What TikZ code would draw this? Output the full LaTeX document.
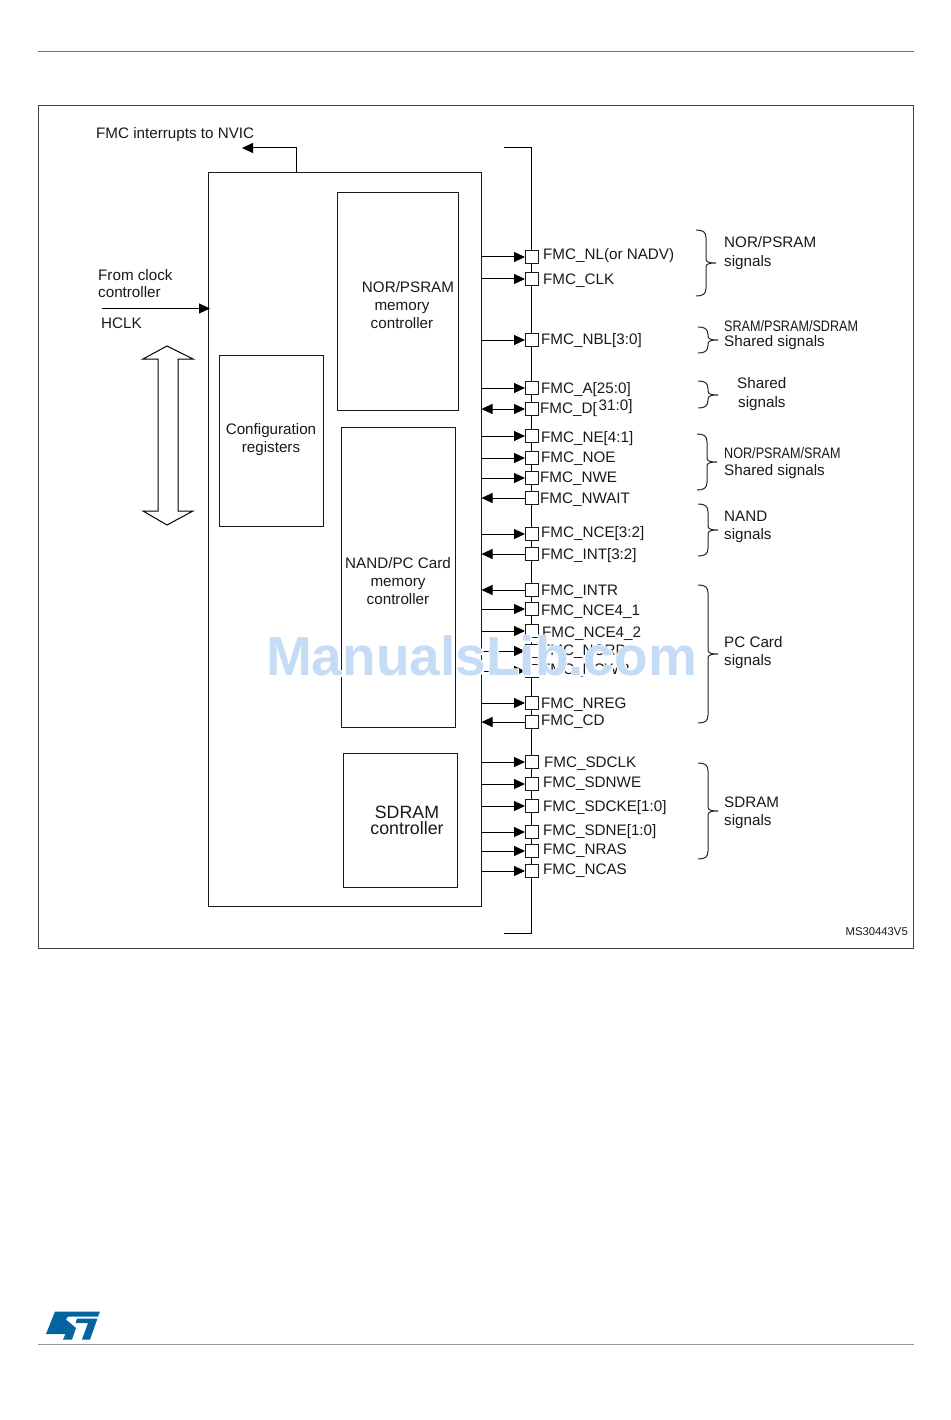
\documentclass[tikz,border=0pt]{standalone}
\usepackage{fontspec}
\setmainfont{Liberation Sans}
\newfontfamily\wmhalofont[FakeBold=4]{Liberation Sans Bold}
\usetikzlibrary{arrows.meta}
\definecolor{stblue}{HTML}{03649F}
\definecolor{wmblue}{HTML}{C4DCF5}
\tikzset{
    box/.style={draw=black!90, fill=white, line width=1pt, inner sep=0pt},
    pad/.style={draw=black!90, fill=white, line width=1pt, inner sep=0pt, minimum size=13pt},
    txt/.style={font=\fontsize{15.2}{18}\selectfont, text=black!90, inner sep=0pt, align=center},
    sig/.style={font=\fontsize{15.2}{18}\selectfont, text=black!90, inner sep=0pt, anchor=west, text height=11pt, text depth=0pt},
    group/.style={font=\fontsize{15.2}{18.5}\selectfont, text=black!90, inner sep=0pt, anchor=west, align=left},
    outsig/.style={line width=1pt, draw=black, -{Triangle[length=11pt,width=10pt]}},
    insig/.style={line width=1pt, draw=black, {Triangle[length=11pt,width=10pt]}-},
    sigbrace/.style={line width=1pt, draw=black!85},
}
% brace: left x, top y, tip y, bottom y
\newcommand{\sigbrace}[4]{
    \draw[sigbrace] (#1,#2) .. controls (#1+7,#2) and (#1+10,#2+2) .. (#1+10,#2+8) -- (#1+10,#3-4)
        .. controls (#1+10,#3-1) and (#1+13,#3) .. (#1+20,#3)
        .. controls (#1+13,#3) and (#1+10,#3+1) .. (#1+10,#3+4) -- (#1+10,#4-8)
        .. controls (#1+10,#4-2) and (#1+7,#4) .. (#1,#4);
}
\begin{document}
\begin{tikzpicture}[x=1pt, y=-1pt]
    \useasboundingbox (0,0) rectangle (950,1420);
    % Page rules and frame
    \coordinate (toprulea) at (38,51.5);
    \coordinate (topruleb) at (914,51.5);
    \coordinate (botrulea) at (38,1344.5);
    \coordinate (botruleb) at (914,1344.5);
    \draw[black!55, line width=1pt] (toprulea) -- (topruleb);
    \draw[black!40, line width=1.4pt] (botrulea) -- (botruleb);
    \draw[black!75, line width=1pt] (38.5,105.5) rectangle (913.5,948.5);
    % ST logo
    \fill[stblue] (55,1311.5) -- (100,1311.5) -- (98,1316.5) -- (68,1316.5) -- (66,1319.5) -- (76,1328) -- (72,1339.5) -- (63,1339.5) -- (65.5,1334) -- (46,1334) -- cycle;
    \fill[stblue] (77,1318.5) -- (97.5,1318.5) -- (90,1339.5) -- (82,1339.5) -- (88,1323) -- (75.5,1323) -- cycle;
    % Bus line
    \coordinate (bustick) at (504,148);
    \coordinate (busa) at (531.5,148);
    \coordinate (busb) at (531.5,933);
    \coordinate (bustickb) at (504,933);
    \draw[line width=1pt, black] (bustick) -- (busa) -- (busb) -- (bustickb);
    % Blocks
    \node[box, minimum width=273pt, minimum height=734pt] (fmc) at (344.5,539.5) {};
    \node[box, minimum width=121pt, minimum height=218pt] (nor) at (398,301.5) {};
    \node[box, minimum width=104pt, minimum height=171pt] (cfg) at (271,440.5) {};
    \node[box, minimum width=114pt, minimum height=300pt] (nand) at (398,577) {};
    \node[box, minimum width=114pt, minimum height=134pt] (sdram) at (400,820) {};
    \node[txt] (nortxt) at (402,305) {\makebox[0pt]{\hspace{12pt}NOR/PSRAM}\\memory\\controller};
    \node[txt] (cfgtxt) at (271,439.5) {Configuration\\registers};
    \node[txt] (nandtxt) at (398,581) {NAND/PC Card\\memory\\controller};
    \node[txt, font=\fontsize{17.8}{16}\selectfont] (sdramtxt) at (407,820) {SDRAM\\controller};
    % Interrupt and clock
    \node[sig] (irqtxt) at (96,133) {FMC interrupts to NVIC};
    \coordinate (irqa) at (296.5,172);
    \coordinate (irqb) at (296.5,148);
    \coordinate (irqc) at (242,148);
    \draw[outsig] (irqa) -- (irqb) -- (irqc);
    \node[group, font=\fontsize{15.2}{17}\selectfont] (clktxt) at (98,284) {From clock\\controller};
    \node[sig] (hclk) at (101,323) {HCLK};
    \coordinate (clkin) at (102,308.5);
    \coordinate (clkend) at (210,308.5);
    \draw[outsig] (clkin) -- (clkend);
    % Double arrow
    \draw[line width=1pt, black, fill=white] (167,346) -- (193,359) -- (178,359) -- (178,511) -- (193,511) -- (167,525) -- (143,511) -- (158,511) -- (158,359) -- (143,359) -- cycle;
    % NOR/PSRAM signals
    \node[pad] (nl) at (532,257) {};
    \node[sig] (nltxt) at (543,254) {FMC\_NL(or NADV)};
    \draw[outsig] (fmc.east |- nl) -- (nl);
    \node[pad] (clk) at (532,279) {};
    \node[sig] (clktext) at (543,279) {FMC\_CLK};
    \draw[outsig] (fmc.east |- clk) -- (clk);
    \node[pad] (nbl) at (532,340) {};
    \node[sig] (nbltxt) at (541,339) {FMC\_NBL[3:0]};
    \draw[outsig] (fmc.east |- nbl) -- (nbl);
    \node[pad] (addr) at (532,388) {};
    \node[sig] (addrtxt) at (541,388) {FMC\_A[25:0]};
    \draw[outsig] (fmc.east |- addr) -- (addr);
    \node[pad] (data) at (532,409) {};
    \node[sig] (datatxt) at (540,408) {FMC\_D[};
    \node[sig] (datatxtb) at (598.5,405) {31:0]};
    \draw[outsig, {Triangle[length=11pt,width=10pt]}-{Triangle[length=11pt,width=10pt]}] (fmc.east |- data) -- (data);
    \node[pad] (ne) at (532,436) {};
    \node[sig] (netxt) at (541,437) {FMC\_NE[4:1]};
    \draw[outsig] (fmc.east |- ne) -- (ne);
    \node[pad] (noe) at (532,458) {};
    \node[sig] (noetxt) at (541,457) {FMC\_NOE};
    \draw[outsig] (fmc.east |- noe) -- (noe);
    \node[pad] (nwe) at (532,478) {};
    \node[sig] (nwetxt) at (540,477) {FMC\_NWE};
    \draw[outsig] (fmc.east |- nwe) -- (nwe);
    \node[pad] (nwait) at (532,498) {};
    \node[sig] (nwaittxt) at (540,498) {FMC\_NWAIT};
    \draw[insig] (fmc.east |- nwait) -- (nwait);
    % NAND signals
    \node[pad] (nce) at (532,534) {};
    \node[sig] (ncetxt) at (541,532) {FMC\_NCE[3:2]};
    \draw[outsig] (fmc.east |- nce) -- (nce);
    \node[pad] (int) at (532,554) {};
    \node[sig] (inttxt) at (541,554) {FMC\_INT[3:2]};
    \draw[insig] (fmc.east |- int) -- (int);
    % PC Card signals
    \node[pad] (intr) at (532,590) {};
    \node[sig] (intrtxt) at (541,590) {FMC\_INTR};
    \draw[insig] (fmc.east |- intr) -- (intr);
    \node[pad] (ncea) at (532,609) {};
    \node[sig] (nceatxt) at (541,610) {FMC\_NCE4\_1};
    \draw[outsig] (fmc.east |- ncea) -- (ncea);
    \node[pad] (nceb) at (532,631) {};
    \node[sig] (ncebtxt) at (542,632) {FMC\_NCE4\_2};
    \draw[outsig] (fmc.east |- nceb) -- (nceb);
    \node[pad] (ncrd) at (532,651) {};
    \node[sig] (ncrdtxt) at (541,650) {FMC\_NCRD};
    \draw[outsig] (fmc.east |- ncrd) -- (ncrd);
    \node[pad] (ncwr) at (532,671) {};
    \node[sig] (ncwrtxt) at (541,669) {FMC\_NCWR};
    \draw[outsig] (fmc.east |- ncwr) -- (ncwr);
    \node[pad] (nreg) at (532,703) {};
    \node[sig] (nregtxt) at (541,703) {FMC\_NREG};
    \draw[outsig] (fmc.east |- nreg) -- (nreg);
    \node[pad] (cd) at (532,722) {};
    \node[sig] (cdtxt) at (541,720) {FMC\_CD};
    \draw[insig] (fmc.east |- cd) -- (cd);
    % SDRAM signals
    \node[pad] (sdclk) at (532,762) {};
    \node[sig] (sdclktxt) at (544,762) {FMC\_SDCLK};
    \draw[outsig] (fmc.east |- sdclk) -- (sdclk);
    \node[pad] (sdnwe) at (532,784) {};
    \node[sig] (sdnwetxt) at (543,782) {FMC\_SDNWE};
    \draw[outsig] (fmc.east |- sdnwe) -- (sdnwe);
    \node[pad] (sdcke) at (532,806) {};
    \node[sig] (sdcketxt) at (543,806) {FMC\_SDCKE[1:0]};
    \draw[outsig] (fmc.east |- sdcke) -- (sdcke);
    \node[pad] (sdne) at (532,832) {};
    \node[sig] (sdnetxt) at (543,830) {FMC\_SDNE[1:0]};
    \draw[outsig] (fmc.east |- sdne) -- (sdne);
    \node[pad] (nras) at (532,851) {};
    \node[sig] (nrastxt) at (543,849) {FMC\_NRAS};
    \draw[outsig] (fmc.east |- nras) -- (nras);
    \node[pad] (ncas) at (532,871) {};
    \node[sig] (ncastxt) at (543,869) {FMC\_NCAS};
    \draw[outsig] (fmc.east |- ncas) -- (ncas);
    % Braces
    \sigbrace{696}{230}{263}{296}
    \sigbrace{698}{327}{340}{353}
    \sigbrace{698}{381}{395}{408}
    \sigbrace{697}{434}{462}{490}
    \sigbrace{698}{504}{530}{556}
    \sigbrace{698}{585}{654}{723}
    \sigbrace{698}{763}{811}{859}
    % Group labels
    \node[group] (gnor) at (724,253) {NOR/PSRAM\\signals};
    \node[group, font=\fontsize{15.2}{15}\selectfont] (gsram) at (724,335.5) {\scalebox{0.83}[1]{SRAM/PSRAM/SDRAM}\\Shared signals};
    \node[group] (gshared) at (737,394) {Shared\\\hspace{1pt}signals};
    \node[group, font=\fontsize{15.2}{17}\selectfont] (gnorsram) at (724,463) {\scalebox{0.83}[1]{NOR/PSRAM/SRAM}\\Shared signals};
    \node[group] (gnand) at (724,527) {NAND\\signals};
    \node[group] (gpc) at (724,652.5) {PC Card\\signals};
    \node[group] (gsd) at (724,813) {SDRAM\\signals};
    \node[sig, anchor=east, font=\fontsize{11.3}{12}\selectfont, text height=8pt] (msno) at (908,931) {MS30443V5};
    % Watermark
    \node[font=\fontsize{55}{54}\wmhalofont, text=white, inner sep=0pt] (wmhalo) at (481.5,656) {ManualsLib.com};
    \node[font=\fontsize{55}{54}\selectfont\bfseries, text=wmblue, inner sep=0pt] (wm) at (481.5,656) {ManualsLib.com};
\end{tikzpicture}
\end{document}
